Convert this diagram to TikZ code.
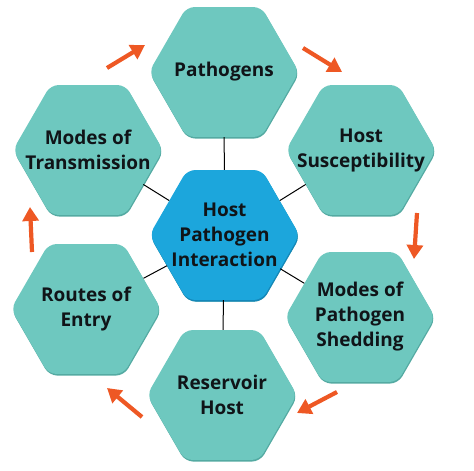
\documentclass[tikz,border=0pt]{standalone}
\usepackage{fontspec}
\setmainfont{Open Sans}
\usetikzlibrary{shapes.geometric,shadows,arrows.meta}
\definecolor{tealhex}{RGB}{110,200,191}
\definecolor{tealdark}{RGB}{84,170,162}
\definecolor{bluehex}{RGB}{28,166,220}
\definecolor{bluedark}{RGB}{20,135,185}
\definecolor{arrowor}{RGB}{238,88,36}
\definecolor{txt}{RGB}{16,20,24}
\tikzset{
  hexbox/.style={regular polygon, regular polygon sides=6, minimum size=150pt,
    inner sep=0pt, rounded corners=8pt, fill=tealhex,
    drop shadow={shadow xshift=0.6pt, shadow yshift=-1.6pt, fill=tealdark, opacity=1}},
  hexcenter/.style={hexbox, fill=bluehex,
    drop shadow={shadow xshift=0.6pt, shadow yshift=-1.6pt, fill=bluedark, opacity=1}},
  hextext/.style={font=\bfseries\fontsize{19}{25}\selectfont, text=txt, align=center},
  link/.style={draw=black, line width=1pt},
  cyc/.style={draw=arrowor, line width=4.2pt, -{Triangle[length=14pt,width=16pt]}},
}
\begin{document}
\begin{tikzpicture}[x=1pt,y=-1pt]
\useasboundingbox (0,0) rectangle (474,471);
\node[hexcenter] (c) at (224.5,235) {};
\node[hexbox] (p) at (224,72) {};
\node[hexbox] (hs) at (361,150) {};
\node[hexbox] (ms) at (360,317) {};
\node[hexbox] (rh) at (222,395) {};
\node[hexbox] (re) at (86,309) {};
\node[hexbox] (mt) at (88,150) {};
\draw[link] (c) -- (p);
\draw[link] (c) -- (hs);
\draw[link] (c) -- (ms);
\draw[link] (c) -- (rh);
\draw[link] (c) -- (re);
\draw[link] (c) -- (mt);
\node[hextext] (ct) at (c) {Host\\Pathogen\\Interaction};
\node[hextext] (pt) at (p) {Pathogens};
\node[hextext] (hst) at (hs) {Host\\Susceptibility};
\node[hextext] (mst) at (ms) {Modes of\\Pathogen\\Shedding};
\node[hextext] (rht) at (rh) {Reservoir\\Host};
\node[hextext] (ret) at (re) {Routes of\\Entry};
\node[hextext] (mtt) at (mt) {Modes of\\Transmission};
\coordinate (a1s) at (107,68);  \coordinate (a1e) at (145,45);
\coordinate (a2s) at (303,48);  \coordinate (a2e) at (342,72);
\coordinate (a3s) at (417,213); \coordinate (a3e) at (414,259);
\coordinate (a4s) at (337,392); \coordinate (a4e) at (297,413);
\coordinate (a5s) at (142,417); \coordinate (a5e) at (107,388);
\coordinate (a6s) at (32,252);  \coordinate (a6e) at (30,207);
\draw[cyc] (a1s) -- (a1e);
\draw[cyc] (a2s) -- (a2e);
\draw[cyc] (a3s) -- (a3e);
\draw[cyc] (a4s) -- (a4e);
\draw[cyc] (a5s) -- (a5e);
\draw[cyc] (a6s) -- (a6e);
\end{tikzpicture}
\end{document}
